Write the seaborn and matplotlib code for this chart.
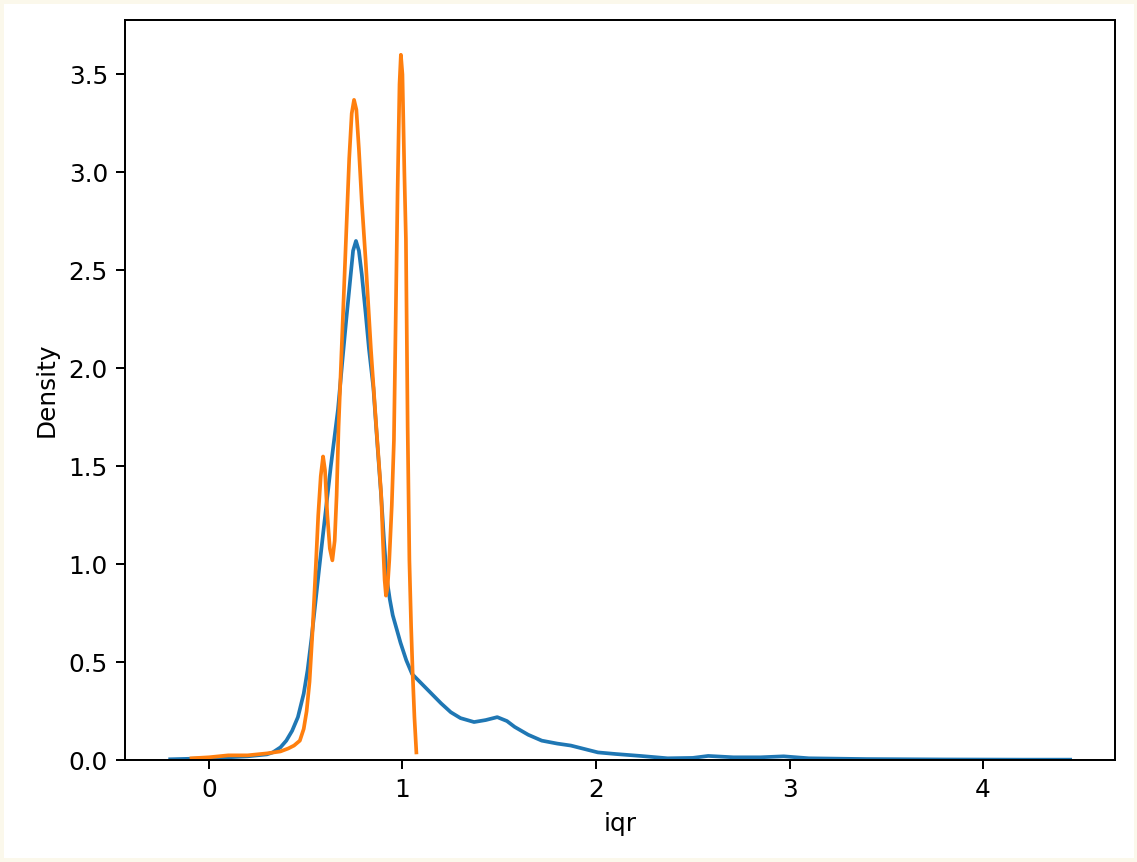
import matplotlib
matplotlib.use("Agg")
import matplotlib.pyplot as plt
import pandas as pd
import seaborn as sns

# blue curve
blue_x = [-0.20, 0.0, 0.2, 0.30, 0.33, 0.37, 0.40, 0.43, 0.46, 0.49, 0.51, 0.53,
          0.55, 0.57, 0.594, 0.63, 0.667, 0.69, 0.71, 0.73, 0.745, 0.76, 0.775,
          0.79, 0.81, 0.827, 0.85, 0.87, 0.89, 0.905, 0.92, 0.935, 0.95, 0.97, 0.99,
          1.02, 1.05, 1.10, 1.15, 1.20, 1.25, 1.30, 1.37, 1.43, 1.49, 1.54, 1.58,
          1.65, 1.72, 1.80, 1.87, 1.95, 2.01, 2.10, 2.23, 2.37, 2.50, 2.58, 2.71,
          2.85, 2.97, 3.10, 3.40, 3.80, 4.20, 4.45]
blue_y = [0.005, 0.01, 0.02, 0.03, 0.04, 0.066, 0.10, 0.15, 0.22, 0.34, 0.46, 0.62,
          0.80, 0.98, 1.19, 1.50, 1.79, 2.04, 2.25, 2.45, 2.60, 2.65, 2.60,
          2.48, 2.28, 2.10, 1.90, 1.62, 1.35, 1.12, 0.92, 0.82, 0.74, 0.67, 0.60,
          0.51, 0.44, 0.39, 0.34, 0.29, 0.245, 0.215, 0.195, 0.205, 0.22, 0.20, 0.17,
          0.13, 0.10, 0.085, 0.075, 0.055, 0.04, 0.032, 0.022, 0.01, 0.012, 0.022, 0.015,
          0.015, 0.02, 0.01, 0.006, 0.004, 0.003, 0.003]

# orange curve
orange_x = [-0.09, 0.0, 0.1, 0.2, 0.3, 0.37, 0.41, 0.44, 0.47, 0.49, 0.505, 0.52,
            0.535, 0.553, 0.565, 0.578, 0.59, 0.60, 0.612, 0.625, 0.638, 0.65, 0.66,
            0.67, 0.69, 0.71, 0.725, 0.738, 0.75, 0.762, 0.775, 0.79, 0.81, 0.837,
            0.865, 0.89, 0.90, 0.908, 0.915, 0.923, 0.932, 0.945, 0.956, 0.966,
            0.975, 0.985, 0.992, 1.0, 1.01, 1.018, 1.027, 1.036, 1.045, 1.053,
            1.062, 1.072]
orange_y = [0.01, 0.015, 0.025, 0.025, 0.035, 0.045, 0.06, 0.075, 0.10, 0.16, 0.25, 0.40,
            0.65, 1.00, 1.25, 1.45, 1.55, 1.48, 1.25, 1.08, 1.02, 1.12, 1.35,
            1.70, 2.20, 2.70, 3.07, 3.30, 3.37, 3.32, 3.12, 2.85, 2.55, 2.10,
            1.70, 1.36, 1.10, 0.92, 0.84, 0.88, 1.02, 1.30, 1.63, 2.30,
            2.90, 3.45, 3.60, 3.50, 3.00, 2.66, 1.70, 1.02, 0.68, 0.44,
            0.22, 0.04]

blue = pd.DataFrame({"iqr": blue_x, "Density": blue_y})
orange = pd.DataFrame({"iqr": orange_x, "Density": orange_y})

fig = plt.figure(figsize=(6.4, 4.85), dpi=177.8, edgecolor="#fbf8eb", linewidth=3.2)
ax = fig.add_axes([0.110, 0.118, 0.870, 0.859])

sns.lineplot(data=blue, x="iqr", y="Density", color="#1f77b4", ax=ax)
sns.lineplot(data=orange, x="iqr", y="Density", color="#ff7f0e", ax=ax)

ax.set_ylim(0, 3.78)
ax.set_xlim(-0.4325, 4.6825)

fig.savefig("out.png", dpi=177.8, edgecolor=fig.get_edgecolor())
